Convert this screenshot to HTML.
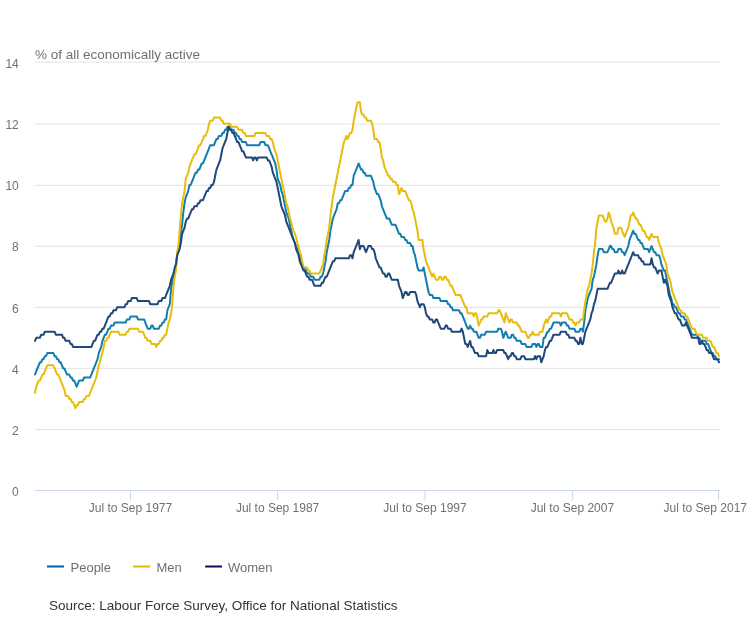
<!DOCTYPE html>
<html><head><meta charset="utf-8"><title>Unemployment rate</title>
<style>
html,body{margin:0;padding:0;background:#fff;}
body{width:754px;height:620px;overflow:hidden;}
svg{display:block;will-change:transform;}
.ax{font-family:"Liberation Sans",Arial,sans-serif;font-size:12px;fill:#707070;}
.ttl{font-family:"Liberation Sans",Arial,sans-serif;font-size:13.5px;fill:#707070;}
.lg{font-family:"Liberation Sans",Arial,sans-serif;font-size:13px;fill:#707070;}
.src{font-family:"Liberation Sans",Arial,sans-serif;font-size:13.5px;fill:#333;}
</style></head><body>
<svg width="754" height="620" viewBox="0 0 754 620">
<rect width="754" height="620" fill="#fff"/>
<path d="M35 62.10H720" stroke="#e2e2e2" stroke-width="1" fill="none"/>
<path d="M35 124.10H720" stroke="#e2e2e2" stroke-width="1" fill="none"/>
<path d="M35 185.30H720" stroke="#e2e2e2" stroke-width="1" fill="none"/>
<path d="M35 246.30H720" stroke="#e2e2e2" stroke-width="1" fill="none"/>
<path d="M35 307.40H720" stroke="#e2e2e2" stroke-width="1" fill="none"/>
<path d="M35 368.40H720" stroke="#e2e2e2" stroke-width="1" fill="none"/>
<path d="M35 429.50H720" stroke="#e2e2e2" stroke-width="1" fill="none"/>
<path d="M35 490.5H720" stroke="#ccd6eb" stroke-width="1" fill="none"/>
<path d="M130.5 490.5V500.5" stroke="#ccd6eb" stroke-width="1" fill="none"/>
<path d="M277.6 490.5V500.5" stroke="#ccd6eb" stroke-width="1" fill="none"/>
<path d="M425.0 490.5V500.5" stroke="#ccd6eb" stroke-width="1" fill="none"/>
<path d="M572.4 490.5V500.5" stroke="#ccd6eb" stroke-width="1" fill="none"/>
<path d="M718.5 490.5V500.5" stroke="#ccd6eb" stroke-width="1" fill="none"/>
<text x="18.8" y="68.0" text-anchor="end" class="ax">14</text>
<text x="18.8" y="129.2" text-anchor="end" class="ax">12</text>
<text x="18.8" y="190.4" text-anchor="end" class="ax">10</text>
<text x="18.8" y="251.4" text-anchor="end" class="ax">8</text>
<text x="18.8" y="312.5" text-anchor="end" class="ax">6</text>
<text x="18.8" y="373.5" text-anchor="end" class="ax">4</text>
<text x="18.8" y="434.6" text-anchor="end" class="ax">2</text>
<text x="18.8" y="495.6" text-anchor="end" class="ax">0</text>
<text x="130.5" y="512.2" text-anchor="middle" class="ax">Jul to Sep 1977</text>
<text x="277.6" y="512.2" text-anchor="middle" class="ax">Jul to Sep 1987</text>
<text x="425.0" y="512.2" text-anchor="middle" class="ax">Jul to Sep 1997</text>
<text x="572.4" y="512.2" text-anchor="middle" class="ax">Jul to Sep 2007</text>
<text x="747" y="512.2" text-anchor="end" class="ax">Jul to Sep 2017</text>
<text x="35" y="59" class="ttl">% of all economically active</text>
<g fill="none" stroke-width="2" stroke-linejoin="round" stroke-linecap="round">
<path d="M35.00 374.50L36.23 371.44L37.45 368.38L38.68 365.32L39.90 362.26L41.13 362.26L42.35 359.21L43.58 359.21L44.81 356.15L46.03 356.15L47.26 353.09L48.48 353.09L49.71 353.09L50.94 353.09L52.16 353.09L53.39 353.09L54.61 356.15L55.84 356.15L57.06 359.21L58.29 359.21L59.52 362.26L60.74 362.26L61.97 365.32L63.19 368.38L64.42 368.38L65.65 371.44L66.87 374.50L68.10 374.50L69.32 374.50L70.55 377.55L71.77 377.55L73.00 380.61L74.23 380.61L75.45 383.67L76.68 386.73L77.90 383.67L79.13 380.61L80.35 380.61L81.58 380.61L82.81 380.61L84.03 377.55L85.26 377.55L86.48 377.55L87.71 377.55L88.94 377.55L90.16 377.55L91.39 374.50L92.61 371.44L93.84 368.38L95.06 365.32L96.29 362.26L97.52 359.21L98.74 353.09L99.97 350.03L101.19 346.97L102.42 340.86L103.65 337.80L104.87 334.74L106.10 334.74L107.32 331.68L108.55 328.63L109.77 328.63L111.00 325.57L112.23 325.57L113.45 325.57L114.68 322.51L115.90 322.51L117.13 322.51L118.35 322.51L119.58 322.51L120.81 322.51L122.03 322.51L123.26 322.51L124.48 322.51L125.71 322.51L126.94 319.45L128.16 319.45L129.39 319.45L130.61 316.39L131.84 316.39L133.06 316.39L134.29 316.39L135.52 316.39L136.74 316.39L137.97 319.45L139.19 319.45L140.42 319.45L141.65 319.45L142.87 319.45L144.10 319.45L145.32 322.51L146.55 325.57L147.77 328.63L149.00 328.63L150.23 328.63L151.45 325.57L152.68 325.57L153.90 328.63L155.13 328.63L156.35 328.63L157.58 328.63L158.81 328.63L160.03 325.57L161.26 325.57L162.48 322.51L163.71 322.51L164.94 319.45L166.16 319.45L167.39 310.28L168.61 307.22L169.84 304.16L171.06 288.87L172.29 282.76L173.52 273.58L174.74 270.52L175.97 264.41L177.19 255.23L178.42 249.12L179.65 246.06L180.87 233.83L182.10 224.65L183.32 212.42L184.55 203.25L185.77 197.13L187.00 194.07L188.23 191.02L189.45 184.90L190.68 184.90L191.90 181.84L193.13 178.78L194.35 175.73L195.58 172.67L196.81 172.67L198.03 169.61L199.26 169.61L200.48 166.55L201.71 163.49L202.94 163.49L204.16 160.44L205.39 157.38L206.61 154.32L207.84 151.26L209.06 148.20L210.29 145.15L211.52 145.15L212.74 145.15L213.97 145.15L215.19 142.09L216.42 139.03L217.65 139.03L218.87 135.97L220.10 135.97L221.32 135.97L222.55 132.91L223.77 132.91L225.00 129.86L226.23 129.86L227.45 126.80L228.68 126.80L229.90 126.80L231.13 129.86L232.35 129.86L233.58 129.86L234.81 132.91L236.03 132.91L237.26 135.97L238.48 135.97L239.71 139.03L240.94 139.03L242.16 142.09L243.39 142.09L244.61 142.09L245.84 142.09L247.06 145.15L248.29 145.15L249.52 145.15L250.74 145.15L251.97 145.15L253.19 145.15L254.42 145.15L255.65 145.15L256.87 145.15L258.10 145.15L259.32 145.15L260.55 142.09L261.77 142.09L263.00 142.09L264.23 142.09L265.45 145.15L266.68 145.15L267.90 145.15L269.13 148.20L270.35 151.26L271.58 154.32L272.81 157.38L274.03 160.44L275.26 163.49L276.48 169.61L277.71 178.78L278.94 181.84L280.16 184.90L281.39 191.02L282.61 194.07L283.84 200.19L285.06 206.31L286.29 212.42L287.52 215.48L288.74 218.54L289.97 224.65L291.19 230.77L292.42 236.89L293.65 239.94L294.87 243.00L296.10 246.06L297.32 249.12L298.55 252.18L299.77 255.23L301.00 261.35L302.23 264.41L303.45 267.47L304.68 267.47L305.90 270.52L307.13 273.58L308.35 273.58L309.58 273.58L310.81 276.64L312.03 276.64L313.26 276.64L314.48 279.70L315.71 279.70L316.94 279.70L318.16 279.70L319.39 279.70L320.61 276.64L321.84 276.64L323.06 273.58L324.29 267.47L325.52 261.35L326.74 252.18L327.97 246.06L329.19 239.94L330.42 230.77L331.65 224.65L332.87 218.54L334.10 215.48L335.32 212.42L336.55 209.36L337.77 203.25L339.00 203.25L340.23 200.19L341.45 200.19L342.68 197.13L343.90 194.07L345.13 191.02L346.35 191.02L347.58 191.02L348.81 187.96L350.03 187.96L351.26 184.90L352.48 184.90L353.71 175.73L354.94 172.67L356.16 169.61L357.39 166.55L358.61 163.49L359.84 166.55L361.06 169.61L362.29 169.61L363.52 172.67L364.74 172.67L365.97 175.73L367.19 175.73L368.42 175.73L369.65 175.73L370.87 175.73L372.10 178.78L373.32 181.84L374.55 187.96L375.77 191.02L377.00 194.07L378.23 194.07L379.45 197.13L380.68 200.19L381.90 206.31L383.13 209.36L384.35 212.42L385.58 215.48L386.81 218.54L388.03 218.54L389.26 218.54L390.48 221.60L391.71 224.65L392.94 224.65L394.16 224.65L395.39 224.65L396.61 227.71L397.84 230.77L399.06 233.83L400.29 233.83L401.52 236.89L402.74 236.89L403.97 236.89L405.19 239.94L406.42 239.94L407.65 243.00L408.87 243.00L410.10 243.00L411.32 246.06L412.55 246.06L413.77 252.18L415.00 255.23L416.23 261.35L417.45 267.47L418.68 270.52L419.90 270.52L421.13 270.52L422.35 270.52L423.58 267.47L424.81 273.58L426.03 279.70L427.26 285.81L428.48 291.93L429.71 294.99L430.94 294.99L432.16 294.99L433.39 298.05L434.61 298.05L435.84 298.05L437.06 298.05L438.29 298.05L439.52 298.05L440.74 301.10L441.97 301.10L443.19 301.10L444.42 301.10L445.65 301.10L446.87 301.10L448.10 304.16L449.32 304.16L450.55 307.22L451.77 307.22L453.00 310.28L454.23 310.28L455.45 310.28L456.68 310.28L457.90 310.28L459.13 310.28L460.35 313.34L461.58 313.34L462.81 316.39L464.03 319.45L465.26 322.51L466.48 325.57L467.71 328.63L468.94 328.63L470.16 325.57L471.39 328.63L472.61 328.63L473.84 331.68L475.06 331.68L476.29 331.68L477.52 334.74L478.74 337.80L479.97 337.80L481.19 334.74L482.42 334.74L483.65 334.74L484.87 334.74L486.10 331.68L487.32 331.68L488.55 331.68L489.77 331.68L491.00 331.68L492.23 331.68L493.45 331.68L494.68 331.68L495.90 331.68L497.13 331.68L498.35 328.63L499.58 328.63L500.81 328.63L502.03 331.68L503.26 337.80L504.48 334.74L505.71 331.68L506.94 334.74L508.16 337.80L509.39 337.80L510.61 337.80L511.84 334.74L513.06 334.74L514.29 337.80L515.52 337.80L516.74 340.86L517.97 340.86L519.19 340.86L520.42 340.86L521.65 343.92L522.87 343.92L524.10 343.92L525.32 343.92L526.55 346.97L527.77 346.97L529.00 346.97L530.23 346.97L531.45 346.97L532.68 343.92L533.90 343.92L535.13 343.92L536.35 346.97L537.58 343.92L538.81 343.92L540.03 346.97L541.26 346.97L542.48 346.97L543.71 337.80L544.94 337.80L546.16 334.74L547.39 331.68L548.61 331.68L549.84 328.63L551.06 328.63L552.29 325.57L553.52 322.51L554.74 322.51L555.97 322.51L557.19 322.51L558.42 322.51L559.65 322.51L560.87 325.57L562.10 322.51L563.32 322.51L564.55 322.51L565.77 322.51L567.00 325.57L568.23 325.57L569.45 328.63L570.68 328.63L571.90 328.63L573.13 328.63L574.35 328.63L575.58 331.68L576.81 331.68L578.03 331.68L579.26 331.68L580.48 328.63L581.71 328.63L582.94 331.68L584.16 322.51L585.39 310.28L586.61 304.16L587.84 298.05L589.06 294.99L590.29 291.93L591.52 288.87L592.74 279.70L593.97 276.64L595.19 270.52L596.42 264.41L597.65 255.23L598.87 249.12L600.10 249.12L601.32 249.12L602.55 249.12L603.77 252.18L605.00 252.18L606.23 252.18L607.45 252.18L608.68 249.12L609.90 246.06L611.13 246.06L612.35 249.12L613.58 249.12L614.81 252.18L616.03 252.18L617.26 252.18L618.48 249.12L619.71 249.12L620.94 249.12L622.16 252.18L623.39 252.18L624.61 255.23L625.84 252.18L627.06 249.12L628.29 246.06L629.52 239.94L630.74 236.89L631.97 233.83L633.19 230.77L634.42 233.83L635.65 233.83L636.87 236.89L638.10 239.94L639.32 239.94L640.55 243.00L641.77 243.00L643.00 246.06L644.23 249.12L645.45 249.12L646.68 249.12L647.90 249.12L649.13 252.18L650.35 249.12L651.58 246.06L652.81 249.12L654.03 252.18L655.26 252.18L656.48 255.23L657.71 255.23L658.94 255.23L660.16 258.29L661.39 264.41L662.61 267.47L663.84 270.52L665.06 270.52L666.29 276.64L667.52 282.76L668.74 288.87L669.97 294.99L671.19 298.05L672.42 304.16L673.65 304.16L674.87 307.22L676.10 307.22L677.32 310.28L678.55 313.34L679.77 313.34L681.00 316.39L682.23 316.39L683.45 316.39L684.68 319.45L685.90 319.45L687.13 322.51L688.35 325.57L689.58 328.63L690.81 331.68L692.03 334.74L693.26 334.74L694.48 334.74L695.71 334.74L696.94 334.74L698.16 337.80L699.39 337.80L700.61 340.86L701.84 340.86L703.06 340.86L704.29 340.86L705.52 340.86L706.74 343.92L707.97 343.92L709.19 346.97L710.42 350.03L711.65 353.09L712.87 353.09L714.10 356.15L715.32 356.15L716.55 359.21L717.77 359.21L719.00 359.21" stroke="#127eae"/>
<path d="M35.00 392.84L36.23 386.73L37.45 383.67L38.68 380.61L39.90 380.61L41.13 377.55L42.35 374.50L43.58 374.50L44.81 371.44L46.03 368.38L47.26 365.32L48.48 365.32L49.71 365.32L50.94 365.32L52.16 365.32L53.39 365.32L54.61 368.38L55.84 371.44L57.06 374.50L58.29 374.50L59.52 377.55L60.74 380.61L61.97 383.67L63.19 386.73L64.42 389.79L65.65 395.90L66.87 395.90L68.10 395.90L69.32 398.96L70.55 398.96L71.77 402.02L73.00 402.02L74.23 405.08L75.45 408.13L76.68 405.08L77.90 405.08L79.13 402.02L80.35 402.02L81.58 402.02L82.81 402.02L84.03 398.96L85.26 398.96L86.48 395.90L87.71 395.90L88.94 395.90L90.16 392.84L91.39 389.79L92.61 386.73L93.84 383.67L95.06 380.61L96.29 377.55L97.52 371.44L98.74 365.32L99.97 362.26L101.19 356.15L102.42 353.09L103.65 346.97L104.87 340.86L106.10 340.86L107.32 337.80L108.55 337.80L109.77 334.74L111.00 331.68L112.23 331.68L113.45 331.68L114.68 331.68L115.90 331.68L117.13 331.68L118.35 331.68L119.58 334.74L120.81 334.74L122.03 334.74L123.26 334.74L124.48 334.74L125.71 334.74L126.94 331.68L128.16 331.68L129.39 328.63L130.61 328.63L131.84 328.63L133.06 328.63L134.29 328.63L135.52 328.63L136.74 328.63L137.97 328.63L139.19 331.68L140.42 331.68L141.65 331.68L142.87 331.68L144.10 334.74L145.32 337.80L146.55 337.80L147.77 340.86L149.00 340.86L150.23 340.86L151.45 343.92L152.68 343.92L153.90 343.92L155.13 343.92L156.35 346.97L157.58 343.92L158.81 343.92L160.03 340.86L161.26 340.86L162.48 337.80L163.71 337.80L164.94 334.74L166.16 334.74L167.39 328.63L168.61 322.51L169.84 319.45L171.06 313.34L172.29 304.16L173.52 285.81L174.74 276.64L175.97 270.52L177.19 252.18L178.42 246.06L179.65 230.77L180.87 215.48L182.10 203.25L183.32 197.13L184.55 191.02L185.77 178.78L187.00 175.73L188.23 172.67L189.45 166.55L190.68 163.49L191.90 160.44L193.13 157.38L194.35 154.32L195.58 154.32L196.81 151.26L198.03 148.20L199.26 145.15L200.48 145.15L201.71 142.09L202.94 139.03L204.16 135.97L205.39 135.97L206.61 132.91L207.84 129.86L209.06 123.74L210.29 120.68L211.52 120.68L212.74 120.68L213.97 117.62L215.19 117.62L216.42 117.62L217.65 117.62L218.87 117.62L220.10 117.62L221.32 120.68L222.55 120.68L223.77 123.74L225.00 123.74L226.23 123.74L227.45 123.74L228.68 123.74L229.90 123.74L231.13 126.80L232.35 126.80L233.58 126.80L234.81 126.80L236.03 126.80L237.26 126.80L238.48 129.86L239.71 129.86L240.94 129.86L242.16 129.86L243.39 132.91L244.61 132.91L245.84 135.97L247.06 135.97L248.29 135.97L249.52 135.97L250.74 135.97L251.97 135.97L253.19 135.97L254.42 135.97L255.65 132.91L256.87 132.91L258.10 132.91L259.32 132.91L260.55 132.91L261.77 132.91L263.00 132.91L264.23 132.91L265.45 132.91L266.68 135.97L267.90 135.97L269.13 135.97L270.35 139.03L271.58 139.03L272.81 142.09L274.03 148.20L275.26 151.26L276.48 154.32L277.71 160.44L278.94 166.55L280.16 172.67L281.39 178.78L282.61 184.90L283.84 191.02L285.06 197.13L286.29 203.25L287.52 206.31L288.74 212.42L289.97 218.54L291.19 221.60L292.42 227.71L293.65 230.77L294.87 233.83L296.10 236.89L297.32 243.00L298.55 246.06L299.77 252.18L301.00 255.23L302.23 261.35L303.45 267.47L304.68 267.47L305.90 267.47L307.13 267.47L308.35 270.52L309.58 270.52L310.81 273.58L312.03 273.58L313.26 273.58L314.48 273.58L315.71 273.58L316.94 273.58L318.16 273.58L319.39 273.58L320.61 270.52L321.84 267.47L323.06 264.41L324.29 255.23L325.52 249.12L326.74 239.94L327.97 233.83L329.19 227.71L330.42 215.48L331.65 206.31L332.87 197.13L334.10 191.02L335.32 184.90L336.55 178.78L337.77 172.67L339.00 166.55L340.23 160.44L341.45 154.32L342.68 148.20L343.90 142.09L345.13 139.03L346.35 135.97L347.58 139.03L348.81 135.97L350.03 132.91L351.26 132.91L352.48 129.86L353.71 120.68L354.94 114.57L356.16 108.45L357.39 102.33L358.61 102.33L359.84 102.33L361.06 111.51L362.29 114.57L363.52 114.57L364.74 117.62L365.97 117.62L367.19 120.68L368.42 120.68L369.65 120.68L370.87 120.68L372.10 123.74L373.32 129.86L374.55 139.03L375.77 139.03L377.00 139.03L378.23 142.09L379.45 142.09L380.68 148.20L381.90 157.38L383.13 160.44L384.35 166.55L385.58 169.61L386.81 172.67L388.03 175.73L389.26 175.73L390.48 178.78L391.71 178.78L392.94 181.84L394.16 181.84L395.39 181.84L396.61 184.90L397.84 184.90L399.06 194.07L400.29 191.02L401.52 187.96L402.74 191.02L403.97 191.02L405.19 191.02L406.42 194.07L407.65 197.13L408.87 200.19L410.10 200.19L411.32 203.25L412.55 209.36L413.77 212.42L415.00 218.54L416.23 224.65L417.45 230.77L418.68 239.94L419.90 239.94L421.13 239.94L422.35 239.94L423.58 249.12L424.81 255.23L426.03 261.35L427.26 264.41L428.48 267.47L429.71 270.52L430.94 273.58L432.16 276.64L433.39 273.58L434.61 276.64L435.84 279.70L437.06 279.70L438.29 279.70L439.52 276.64L440.74 276.64L441.97 279.70L443.19 279.70L444.42 276.64L445.65 276.64L446.87 279.70L448.10 279.70L449.32 282.76L450.55 285.81L451.77 285.81L453.00 288.87L454.23 291.93L455.45 294.99L456.68 294.99L457.90 294.99L459.13 294.99L460.35 294.99L461.58 298.05L462.81 301.10L464.03 304.16L465.26 307.22L466.48 307.22L467.71 313.34L468.94 313.34L470.16 313.34L471.39 313.34L472.61 313.34L473.84 316.39L475.06 313.34L476.29 313.34L477.52 319.45L478.74 325.57L479.97 322.51L481.19 319.45L482.42 319.45L483.65 316.39L484.87 316.39L486.10 316.39L487.32 316.39L488.55 313.34L489.77 313.34L491.00 313.34L492.23 313.34L493.45 313.34L494.68 313.34L495.90 313.34L497.13 313.34L498.35 310.28L499.58 310.28L500.81 313.34L502.03 316.39L503.26 319.45L504.48 322.51L505.71 313.34L506.94 316.39L508.16 319.45L509.39 322.51L510.61 319.45L511.84 319.45L513.06 322.51L514.29 322.51L515.52 322.51L516.74 322.51L517.97 325.57L519.19 325.57L520.42 328.63L521.65 331.68L522.87 331.68L524.10 331.68L525.32 331.68L526.55 334.74L527.77 337.80L529.00 337.80L530.23 334.74L531.45 334.74L532.68 331.68L533.90 334.74L535.13 334.74L536.35 334.74L537.58 334.74L538.81 334.74L540.03 331.68L541.26 331.68L542.48 331.68L543.71 325.57L544.94 322.51L546.16 319.45L547.39 322.51L548.61 319.45L549.84 316.39L551.06 316.39L552.29 313.34L553.52 313.34L554.74 313.34L555.97 313.34L557.19 313.34L558.42 313.34L559.65 313.34L560.87 316.39L562.10 313.34L563.32 313.34L564.55 313.34L565.77 313.34L567.00 313.34L568.23 316.39L569.45 319.45L570.68 319.45L571.90 319.45L573.13 322.51L574.35 322.51L575.58 325.57L576.81 322.51L578.03 322.51L579.26 322.51L580.48 319.45L581.71 319.45L582.94 319.45L584.16 310.28L585.39 301.10L586.61 294.99L587.84 288.87L589.06 285.81L590.29 279.70L591.52 273.58L592.74 264.41L593.97 252.18L595.19 243.00L596.42 227.71L597.65 221.60L598.87 215.48L600.10 215.48L601.32 215.48L602.55 215.48L603.77 218.54L605.00 221.60L606.23 221.60L607.45 218.54L608.68 212.42L609.90 215.48L611.13 221.60L612.35 224.65L613.58 227.71L614.81 233.83L616.03 233.83L617.26 233.83L618.48 227.71L619.71 227.71L620.94 227.71L622.16 230.77L623.39 233.83L624.61 236.89L625.84 233.83L627.06 230.77L628.29 227.71L629.52 221.60L630.74 215.48L631.97 215.48L633.19 212.42L634.42 215.48L635.65 218.54L636.87 218.54L638.10 221.60L639.32 224.65L640.55 224.65L641.77 227.71L643.00 230.77L644.23 230.77L645.45 233.83L646.68 236.89L647.90 236.89L649.13 239.94L650.35 236.89L651.58 233.83L652.81 236.89L654.03 236.89L655.26 236.89L656.48 236.89L657.71 236.89L658.94 243.00L660.16 246.06L661.39 249.12L662.61 255.23L663.84 258.29L665.06 261.35L666.29 264.41L667.52 273.58L668.74 276.64L669.97 279.70L671.19 285.81L672.42 291.93L673.65 294.99L674.87 298.05L676.10 301.10L677.32 304.16L678.55 307.22L679.77 310.28L681.00 310.28L682.23 313.34L683.45 313.34L684.68 313.34L685.90 316.39L687.13 316.39L688.35 319.45L689.58 322.51L690.81 325.57L692.03 328.63L693.26 328.63L694.48 328.63L695.71 331.68L696.94 334.74L698.16 334.74L699.39 334.74L700.61 334.74L701.84 334.74L703.06 337.80L704.29 337.80L705.52 337.80L706.74 337.80L707.97 340.86L709.19 340.86L710.42 340.86L711.65 343.92L712.87 346.97L714.10 346.97L715.32 350.03L716.55 353.09L717.77 353.09L719.00 356.15" stroke="#e8bc0c"/>
<path d="M35.00 340.86L36.23 337.80L37.45 337.80L38.68 337.80L39.90 337.80L41.13 334.74L42.35 334.74L43.58 334.74L44.81 331.68L46.03 331.68L47.26 331.68L48.48 331.68L49.71 331.68L50.94 331.68L52.16 331.68L53.39 331.68L54.61 331.68L55.84 334.74L57.06 334.74L58.29 334.74L59.52 334.74L60.74 334.74L61.97 334.74L63.19 337.80L64.42 337.80L65.65 340.86L66.87 340.86L68.10 340.86L69.32 340.86L70.55 343.92L71.77 343.92L73.00 346.97L74.23 346.97L75.45 346.97L76.68 346.97L77.90 346.97L79.13 346.97L80.35 346.97L81.58 346.97L82.81 346.97L84.03 346.97L85.26 346.97L86.48 346.97L87.71 346.97L88.94 346.97L90.16 346.97L91.39 346.97L92.61 343.92L93.84 340.86L95.06 340.86L96.29 337.80L97.52 334.74L98.74 334.74L99.97 331.68L101.19 331.68L102.42 328.63L103.65 328.63L104.87 325.57L106.10 322.51L107.32 319.45L108.55 316.39L109.77 316.39L111.00 313.34L112.23 313.34L113.45 310.28L114.68 310.28L115.90 310.28L117.13 307.22L118.35 307.22L119.58 307.22L120.81 307.22L122.03 307.22L123.26 307.22L124.48 307.22L125.71 304.16L126.94 304.16L128.16 301.10L129.39 301.10L130.61 301.10L131.84 298.05L133.06 298.05L134.29 298.05L135.52 298.05L136.74 298.05L137.97 301.10L139.19 301.10L140.42 301.10L141.65 301.10L142.87 301.10L144.10 301.10L145.32 301.10L146.55 301.10L147.77 301.10L149.00 301.10L150.23 304.16L151.45 304.16L152.68 304.16L153.90 304.16L155.13 304.16L156.35 304.16L157.58 304.16L158.81 301.10L160.03 301.10L161.26 301.10L162.48 298.05L163.71 298.05L164.94 298.05L166.16 294.99L167.39 291.93L168.61 288.87L169.84 285.81L171.06 279.70L172.29 276.64L173.52 273.58L174.74 267.47L175.97 264.41L177.19 255.23L178.42 252.18L179.65 249.12L180.87 243.00L182.10 233.83L183.32 230.77L184.55 227.71L185.77 221.60L187.00 218.54L188.23 218.54L189.45 215.48L190.68 212.42L191.90 209.36L193.13 209.36L194.35 206.31L195.58 206.31L196.81 206.31L198.03 203.25L199.26 203.25L200.48 200.19L201.71 200.19L202.94 200.19L204.16 197.13L205.39 194.07L206.61 191.02L207.84 191.02L209.06 187.96L210.29 187.96L211.52 184.90L212.74 184.90L213.97 181.84L215.19 175.73L216.42 169.61L217.65 166.55L218.87 163.49L220.10 160.44L221.32 154.32L222.55 148.20L223.77 145.15L225.00 142.09L226.23 139.03L227.45 132.91L228.68 126.80L229.90 129.86L231.13 129.86L232.35 132.91L233.58 132.91L234.81 135.97L236.03 139.03L237.26 142.09L238.48 142.09L239.71 145.15L240.94 148.20L242.16 151.26L243.39 151.26L244.61 154.32L245.84 157.38L247.06 157.38L248.29 157.38L249.52 157.38L250.74 157.38L251.97 157.38L253.19 160.44L254.42 157.38L255.65 157.38L256.87 160.44L258.10 157.38L259.32 157.38L260.55 157.38L261.77 157.38L263.00 157.38L264.23 157.38L265.45 157.38L266.68 157.38L267.90 160.44L269.13 160.44L270.35 163.49L271.58 166.55L272.81 172.67L274.03 175.73L275.26 178.78L276.48 181.84L277.71 187.96L278.94 194.07L280.16 200.19L281.39 206.31L282.61 209.36L283.84 212.42L285.06 215.48L286.29 221.60L287.52 224.65L288.74 227.71L289.97 230.77L291.19 233.83L292.42 236.89L293.65 239.94L294.87 243.00L296.10 249.12L297.32 252.18L298.55 255.23L299.77 261.35L301.00 264.41L302.23 267.47L303.45 270.52L304.68 270.52L305.90 273.58L307.13 276.64L308.35 276.64L309.58 279.70L310.81 279.70L312.03 279.70L313.26 282.76L314.48 285.81L315.71 285.81L316.94 285.81L318.16 285.81L319.39 285.81L320.61 285.81L321.84 282.76L323.06 282.76L324.29 279.70L325.52 276.64L326.74 276.64L327.97 273.58L329.19 270.52L330.42 267.47L331.65 264.41L332.87 261.35L334.10 261.35L335.32 258.29L336.55 258.29L337.77 258.29L339.00 258.29L340.23 258.29L341.45 258.29L342.68 258.29L343.90 258.29L345.13 258.29L346.35 258.29L347.58 258.29L348.81 258.29L350.03 255.23L351.26 255.23L352.48 258.29L353.71 252.18L354.94 249.12L356.16 246.06L357.39 243.00L358.61 239.94L359.84 249.12L361.06 246.06L362.29 246.06L363.52 246.06L364.74 249.12L365.97 252.18L367.19 249.12L368.42 246.06L369.65 246.06L370.87 246.06L372.10 249.12L373.32 249.12L374.55 252.18L375.77 258.29L377.00 261.35L378.23 264.41L379.45 267.47L380.68 267.47L381.90 270.52L383.13 273.58L384.35 273.58L385.58 276.64L386.81 276.64L388.03 273.58L389.26 273.58L390.48 276.64L391.71 279.70L392.94 279.70L394.16 279.70L395.39 279.70L396.61 279.70L397.84 279.70L399.06 285.81L400.29 288.87L401.52 291.93L402.74 298.05L403.97 294.99L405.19 291.93L406.42 291.93L407.65 294.99L408.87 294.99L410.10 291.93L411.32 291.93L412.55 291.93L413.77 291.93L415.00 291.93L416.23 294.99L417.45 301.10L418.68 304.16L419.90 307.22L421.13 304.16L422.35 304.16L423.58 304.16L424.81 307.22L426.03 313.34L427.26 316.39L428.48 316.39L429.71 319.45L430.94 319.45L432.16 319.45L433.39 322.51L434.61 322.51L435.84 319.45L437.06 319.45L438.29 322.51L439.52 325.57L440.74 328.63L441.97 328.63L443.19 328.63L444.42 328.63L445.65 325.57L446.87 325.57L448.10 328.63L449.32 328.63L450.55 328.63L451.77 331.68L453.00 331.68L454.23 331.68L455.45 331.68L456.68 331.68L457.90 331.68L459.13 331.68L460.35 331.68L461.58 328.63L462.81 331.68L464.03 337.80L465.26 343.92L466.48 343.92L467.71 346.97L468.94 343.92L470.16 340.86L471.39 346.97L472.61 346.97L473.84 350.03L475.06 353.09L476.29 353.09L477.52 353.09L478.74 356.15L479.97 356.15L481.19 356.15L482.42 356.15L483.65 356.15L484.87 356.15L486.10 356.15L487.32 350.03L488.55 353.09L489.77 353.09L491.00 353.09L492.23 353.09L493.45 350.03L494.68 353.09L495.90 353.09L497.13 350.03L498.35 350.03L499.58 350.03L500.81 350.03L502.03 350.03L503.26 350.03L504.48 353.09L505.71 353.09L506.94 356.15L508.16 359.21L509.39 356.15L510.61 356.15L511.84 353.09L513.06 353.09L514.29 356.15L515.52 356.15L516.74 359.21L517.97 359.21L519.19 359.21L520.42 359.21L521.65 356.15L522.87 356.15L524.10 356.15L525.32 359.21L526.55 359.21L527.77 359.21L529.00 359.21L530.23 359.21L531.45 359.21L532.68 359.21L533.90 359.21L535.13 356.15L536.35 359.21L537.58 356.15L538.81 356.15L540.03 356.15L541.26 362.26L542.48 359.21L543.71 356.15L544.94 350.03L546.16 346.97L547.39 346.97L548.61 343.92L549.84 340.86L551.06 340.86L552.29 337.80L553.52 334.74L554.74 334.74L555.97 334.74L557.19 334.74L558.42 334.74L559.65 334.74L560.87 331.68L562.10 331.68L563.32 331.68L564.55 331.68L565.77 331.68L567.00 334.74L568.23 334.74L569.45 337.80L570.68 337.80L571.90 337.80L573.13 337.80L574.35 337.80L575.58 340.86L576.81 340.86L578.03 343.92L579.26 343.92L580.48 337.80L581.71 343.92L582.94 343.92L584.16 337.80L585.39 331.68L586.61 328.63L587.84 325.57L589.06 322.51L590.29 319.45L591.52 313.34L592.74 310.28L593.97 304.16L595.19 301.10L596.42 294.99L597.65 288.87L598.87 288.87L600.10 288.87L601.32 288.87L602.55 288.87L603.77 288.87L605.00 288.87L606.23 288.87L607.45 288.87L608.68 285.81L609.90 282.76L611.13 282.76L612.35 279.70L613.58 276.64L614.81 273.58L616.03 273.58L617.26 273.58L618.48 270.52L619.71 273.58L620.94 273.58L622.16 270.52L623.39 273.58L624.61 273.58L625.84 270.52L627.06 267.47L628.29 264.41L629.52 261.35L630.74 258.29L631.97 255.23L633.19 252.18L634.42 255.23L635.65 255.23L636.87 255.23L638.10 255.23L639.32 258.29L640.55 258.29L641.77 261.35L643.00 261.35L644.23 264.41L645.45 264.41L646.68 264.41L647.90 264.41L649.13 264.41L650.35 264.41L651.58 258.29L652.81 264.41L654.03 267.47L655.26 267.47L656.48 270.52L657.71 273.58L658.94 270.52L660.16 270.52L661.39 270.52L662.61 276.64L663.84 282.76L665.06 279.70L666.29 282.76L667.52 285.81L668.74 294.99L669.97 298.05L671.19 301.10L672.42 307.22L673.65 310.28L674.87 313.34L676.10 313.34L677.32 316.39L678.55 319.45L679.77 319.45L681.00 322.51L682.23 325.57L683.45 325.57L684.68 325.57L685.90 322.51L687.13 325.57L688.35 328.63L689.58 331.68L690.81 334.74L692.03 337.80L693.26 337.80L694.48 337.80L695.71 337.80L696.94 337.80L698.16 337.80L699.39 343.92L700.61 343.92L701.84 340.86L703.06 343.92L704.29 343.92L705.52 346.97L706.74 350.03L707.97 350.03L709.19 353.09L710.42 353.09L711.65 353.09L712.87 356.15L714.10 359.21L715.32 359.21L716.55 359.21L717.77 359.21L719.00 362.26" stroke="#21487a"/>
</g>
<g stroke-width="2" fill="none">
<path d="M47 566.5H64" stroke="#0b5c9e"/>
<path d="M133.2 566.5H150.3" stroke="#e4b900"/>
<path d="M205.2 566.5H222" stroke="#0b0b5e"/>
</g>
<text x="70.5" y="571.8" class="lg">People</text>
<text x="156.5" y="571.8" class="lg">Men</text>
<text x="228" y="571.8" class="lg">Women</text>
<text x="49" y="609.5" class="src">Source: Labour Force Survey, Office for National Statistics</text>
</svg>
</body></html>
